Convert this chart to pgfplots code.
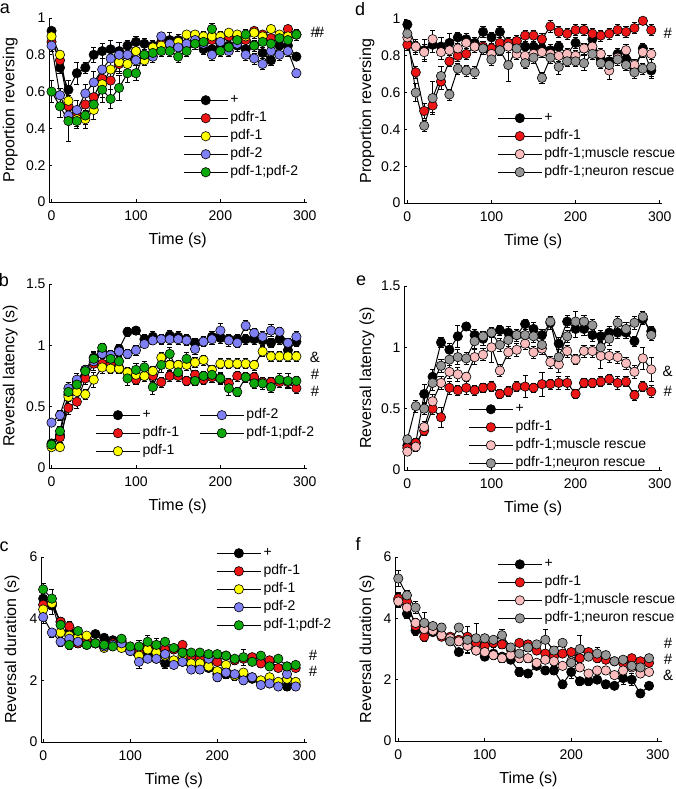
\documentclass[border=0pt]{standalone}
\usepackage{fontspec}
\setmainfont{Liberation Sans}
\usepackage{pgfplots}
\usepackage{pgfplotstable}
\pgfplotsset{compat=1.18}

\definecolor{cblack}{RGB}{0,0,0}
\definecolor{cred}{RGB}{237,22,22}
\definecolor{cyellow}{RGB}{255,255,0}
\definecolor{cblue}{RGB}{128,128,245}
\definecolor{cgreen}{RGB}{12,168,12}
\definecolor{cpink}{RGB}{250,188,188}
\definecolor{cgray}{RGB}{150,150,150}

% panel a: t, + , pdfr-1, pdf-1, pdf-2, pdf-1;pdf-2 (value, error)
\pgfplotstableread{
t   k    ke   r    re   y    ye   b    be   g    ge
0   0.93 .02  0.87 .03  0.90 .02  0.85 .03  0.60 .06
10  0.73 .03  0.77 .03  0.80 .02  0.58 .04  0.52 .06
20  0.61 .05  0.52 .06  0.55 .05  0.47 .05  0.44 .11
30  0.70 .06  0.47 .04  0.45 .04  0.50 .05  0.44 .04
40  0.73 .03  0.53 .05  0.45 .05  0.59 .05  0.47 .05
50  0.80 .04  0.57 .06  0.50 .05  0.65 .06  0.53 .05
60  0.82 .04  0.67 .06  0.64 .07  0.72 .06  0.61 .07
70  0.83 .05  0.66 .05  0.72 .06  0.78 .05  0.56 .05
80  0.82 .05  0.75 .05  0.76 .05  0.80 .04  0.62 .07
90  0.85 .03  0.80 .04  0.75 .04  0.80 .05  0.70 .05
100 0.87 .03  0.82 .04  0.82 .04  0.77 .05  0.70 .04
110 0.86 .03  0.78 .04  0.77 .03  0.80 .03  0.80 .04
120 0.85 .03  0.84 .03  0.84 .03  0.79 .03  0.81 .03
130 0.87 .03  0.86 .03  0.85 .03  0.90 .02  0.82 .03
140 0.88 .04  0.86 .03  0.86 .03  0.86 .03  0.82 .03
150 0.88 .03  0.87 .03  0.87 .03  0.84 .03  0.79 .03
160 0.86 .03  0.86 .03  0.91 .02  0.86 .03  0.82 .03
170 0.87 .03  0.87 .03  0.91 .02  0.88 .03  0.86 .03
180 0.83 .03  0.87 .03  0.90 .03  0.86 .03  0.87 .03
190 0.83 .03  0.88 .03  0.90 .03  0.80 .03  0.94 .03
200 0.86 .03  0.88 .03  0.90 .03  0.87 .03  0.82 .03
210 0.85 .03  0.90 .03  0.92 .02  0.82 .03  0.84 .03
220 0.85 .03  0.90 .03  0.91 .02  0.86 .03  0.88 .03
230 0.83 .03  0.88 .03  0.90 .03  0.80 .03  0.91 .03
240 0.85 .03  0.93 .02  0.92 .03  0.78 .03  0.85 .03
250 0.81 .04  0.91 .02  0.90 .03  0.75 .03  0.87 .03
260 0.77 .03  0.89 .03  0.94 .02  0.82 .03  0.86 .03
270 0.85 .03  0.90 .03  0.91 .02  0.80 .03  0.89 .03
280 0.85 .04  0.94 .02  0.90 .03  0.82 .03  0.88 .03
290 0.79 .02  0.91 .03  0.91 .03  0.70 .02  0.91 .03
}\ta

% panel b
\pgfplotstableread{
t   k    ke   r    re   y    ye   b    be   g    ge
0   0.20 .03  0.18 .03  0.17 .03  0.37 .03  0.19 .03
10  0.27 .04  0.25 .04  0.17 .03  0.43 .04  0.30 .04
20  0.60 .08  0.49 .05  0.58 .06  0.65 .05  0.62 .05
30  0.70 .05  0.54 .05  0.62 .05  0.72 .05  0.68 .05
40  0.80 .04  0.73 .05  0.60 .04  0.80 .04  0.79 .04
50  0.90 .05  0.85 .05  0.72 .06  0.87 .05  0.89 .05
60  0.95 .04  0.85 .05  0.82 .05  0.93 .04  0.98 .04
70  0.92 .04  0.85 .04  0.81 .04  0.92 .04  0.89 .04
80  0.97 .04  0.82 .04  0.81 .04  0.95 .04  0.87 .05
90  1.11 .04  0.78 .04  0.78 .04  0.93 .04  0.73 .06
100 1.12 .03  0.72 .04  0.76 .04  0.96 .04  0.80 .05
110 1.05 .04  0.75 .04  0.75 .04  1.01 .03  0.82 .05
120 1.07 .04  0.75 .04  0.79 .04  1.04 .03  0.66 .06
130 1.05 .04  0.70 .04  0.90 .04  1.05 .03  0.84 .06
140 1.08 .04  0.75 .04  0.84 .04  1.05 .04  0.93 .05
150 1.07 .04  0.75 .04  0.84 .04  1.05 .04  0.78 .05
160 1.05 .04  0.71 .04  0.84 .04  1.04 .04  0.89 .05
170 1.02 .04  0.76 .04  0.86 .04  0.97 .04  0.71 .04
180 1.03 .04  0.72 .04  0.88 .04  1.03 .04  0.75 .04
190 1.07 .04  0.74 .04  0.80 .04  1.05 .04  0.76 .04
200 1.06 .04  0.73 .04  0.85 .04  1.12 .06  0.73 .05
210 1.05 .04  0.69 .04  0.85 .04  1.04 .05  0.65 .06
220 1.05 .04  0.75 .04  0.85 .04  1.02 .04  0.62 .04
230 1.05 .04  0.74 .04  0.85 .04  1.16 .04  0.74 .04
240 1.05 .04  0.74 .04  0.84 .04  1.10 .04  0.69 .04
250 1.04 .04  0.70 .04  0.95 .04  1.07 .04  0.69 .05
260 1.02 .04  0.70 .04  0.91 .04  1.12 .05  0.66 .04
270 1.05 .04  0.70 .04  0.91 .04  1.11 .04  0.72 .05
280 0.96 .04  0.70 .04  0.91 .04  1.02 .04  0.71 .06
290 1.03 .04  0.65 .04  0.91 .04  1.07 .04  0.71 .04
}\tb

% panel c
\pgfplotstableread{
t   k    ke   r    re   y    ye   b    be   g    ge
0   4.65 .2   4.45 .2   4.30 .2   4.05 .2   4.95 .2
10  4.43 .3   4.50 .2   4.50 .2   3.55 .15  4.65 .3
20  3.90 .15  3.90 .15  3.55 .15  3.25 .15  3.80 .15
30  3.60 .15  3.75 .15  3.45 .15  3.35 .15  3.15 .15
40  3.45 .12  3.20 .12  3.40 .12  3.25 .12  3.60 .12
50  3.35 .12  3.30 .12  3.45 .12  3.15 .12  3.15 .12
60  3.50 .12  3.20 .12  3.20 .12  3.20 .12  3.20 .12
70  3.38 .12  3.10 .12  3.05 .12  3.10 .12  3.15 .12
80  3.30 .12  3.20 .12  3.15 .12  3.15 .12  3.10 .12
90  3.25 .12  3.30 .12  3.05 .12  3.20 .12  3.35 .12
100 3.00 .12  3.00 .12  2.95 .12  2.95 .12  3.10 .12
110 3.00 .15  2.90 .12  2.80 .12  2.60 .2   3.10 .2
120 2.90 .12  3.10 .12  3.00 .12  2.70 .12  3.25 .2
130 2.70 .12  3.00 .12  2.90 .12  2.70 .12  3.15 .2
140 2.55 .15  3.00 .12  2.80 .12  2.85 .12  3.25 .12
150 2.60 .12  3.00 .12  2.65 .12  2.50 .12  3.05 .12
160 2.60 .12  3.15 .12  2.80 .12  2.60 .12  2.90 .12
170 2.55 .12  2.80 .12  2.55 .12  2.35 .12  2.90 .12
180 2.45 .12  2.70 .12  2.55 .12  2.35 .12  2.90 .12
190 2.40 .12  2.60 .12  2.45 .12  2.70 .12  2.85 .12
200 2.20 .12  2.60 .12  2.30 .12  2.10 .12  2.85 .12
210 2.20 .12  2.80 .12  2.50 .12  2.25 .12  2.80 .12
220 2.15 .15  2.65 .12  2.15 .12  2.20 .12  2.70 .12
230 2.10 .12  2.70 .12  2.25 .12  2.00 .12  2.75 .25
240 2.05 .12  2.75 .12  2.10 .12  2.10 .12  2.60 .12
250 1.95 .12  2.55 .12  2.00 .12  1.85 .12  2.80 .12
260 1.90 .12  2.65 .12  2.10 .12  1.90 .12  2.45 .12
270 1.85 .12  2.40 .12  1.95 .12  1.80 .12  2.70 .12
280 1.80 .12  2.45 .12  2.05 .12  2.20 .12  2.45 .12
290 1.85 .12  2.40 .12  1.95 .12  1.80 .12  2.50 .12
}\tc

% panel d: t, +, pdfr-1, muscle rescue, neuron rescue
\pgfplotstableread{
t   k    ke   r    re   p    pe   g    ge
0   0.97 .02  0.86 .03  0.90 .03  0.92 .03
10  0.85 .04  0.71 .03  0.85 .03  0.60 .05
20  0.83 .06  0.50 .04  0.82 .04  0.42 .03
30  0.86 .04  0.53 .04  0.89 .05  0.57 .09
40  0.85 .05  0.66 .04  0.82 .04  0.69 .05
50  0.87 .05  0.77 .03  0.83 .04  0.59 .03
60  0.90 .03  0.80 .03  0.84 .05  0.73 .03
70  0.89 .03  0.81 .03  0.87 .03  0.72 .03
80  0.87 .03  0.85 .03  0.85 .03  0.71 .03
90  0.93 .03  0.85 .03  0.84 .03  0.84 .03
100 0.90 .03  0.84 .03  0.81 .03  0.78 .03
110 0.93 .03  0.87 .03  0.83 .03  0.83 .03
120 0.87 .03  0.87 .03  0.85 .03  0.75 .09
130 0.88 .03  0.88 .03  0.81 .03  0.84 .03
140 0.85 .05  0.91 .03  0.80 .03  0.76 .03
150 0.85 .03  0.91 .03  0.81 .03  0.79 .03
160 0.84 .03  0.89 .03  0.82 .03  0.68 .03
170 0.83 .03  0.96 .03  0.81 .03  0.79 .03
180 0.85 .03  0.93 .03  0.80 .03  0.74 .04
190 0.81 .03  0.92 .03  0.81 .03  0.77 .03
200 0.87 .03  0.94 .03  0.80 .03  0.77 .03
210 0.84 .03  0.94 .03  0.84 .03  0.76 .04
220 0.89 .04  0.92 .03  0.85 .03  0.81 .03
230 0.78 .03  0.91 .03  0.81 .03  0.76 .03
240 0.77 .03  0.92 .03  0.72 .05  0.75 .03
250 0.81 .03  0.94 .03  0.79 .03  0.78 .03
260 0.78 .03  0.93 .03  0.83 .03  0.75 .03
270 0.72 .04  0.95 .03  0.75 .03  0.71 .03
280 0.84 .03  0.99 .02  0.82 .03  0.73 .03
290 0.72 .04  0.94 .03  0.81 .03  0.74 .05
}\td

% panel e
\pgfplotstableread{
t   k    ke   r    re   p    pe   g    ge
0   0.20 .03  0.18 .03  0.15 .03  0.25 .03
10  0.22 .04  0.22 .04  0.19 .04  0.52 .05
20  0.62 .08  0.32 .04  0.35 .05  0.50 .05
30  0.76 .06  0.50 .05  0.56 .06  0.71 .06
40  1.04 .04  0.43 .08  0.71 .05  0.85 .05
50  0.98 .05  0.67 .05  0.80 .05  0.90 .05
60  1.09 .09  0.65 .04  0.78 .06  0.92 .06
70  1.17 .03  0.67 .05  0.76 .04  0.91 .05
80  1.10 .05  0.65 .04  0.92 .06  1.05 .06
90  1.07 .05  0.67 .04  0.94 .05  1.09 .04
100 1.12 .04  0.68 .04  1.00 .12  1.12 .04
110 1.14 .04  0.62 .04  0.81 .05  1.02 .05
120 1.12 .05  0.64 .04  0.96 .05  1.06 .05
130 1.10 .05  0.68 .04  0.98 .05  1.10 .05
140 1.19 .04  0.68 .09  1.03 .05  1.10 .05
150 1.15 .05  0.67 .04  0.96 .05  1.09 .05
160 1.10 .05  0.70 .10  0.99 .05  1.02 .05
170 1.20 .05  0.70 .04  0.88 .05  1.21 .04
180 1.03 .05  0.71 .05  0.86 .06  0.92 .06
190 1.21 .05  0.71 .05  0.97 .05  1.09 .05
200 1.15 .07  0.62 .04  0.90 .04  1.21 .08
210 1.15 .05  0.71 .04  0.97 .05  1.21 .05
220 1.10 .05  0.71 .04  0.97 .05  1.18 .05
230 1.09 .05  0.72 .04  0.93 .10  1.00 .05
240 1.12 .05  0.74 .04  0.93 .05  1.07 .05
250 1.12 .05  0.71 .05  0.92 .05  1.20 .05
260 1.12 .05  0.72 .04  0.87 .05  1.15 .05
270 1.05 .04  0.61 .04  0.80 .05  1.20 .05
280 1.23 .04  0.68 .04  0.91 .09  1.25 .04
290 1.13 .04  0.64 .05  0.82 .10  1.10 .04
}\te

% panel f
\pgfplotstableread{
t   k    ke   r    re   p    pe   g    ge
0   4.60 .2   4.65 .2   4.55 .2   5.30 .25
10  4.15 .15  4.55 .2   4.35 .15  4.75 .15
20  3.60 .15  3.75 .15  3.85 .15  4.35 .2
30  3.70 .15  3.40 .15  3.65 .15  3.85 .35
40  3.55 .12  3.60 .12  3.60 .12  3.75 .12
50  3.45 .12  3.40 .12  3.45 .12  3.70 .15
60  3.30 .12  3.40 .12  3.35 .12  3.25 .12
70  2.90 .12  3.30 .12  3.25 .12  3.70 .12
80  3.10 .2   3.40 .12  3.10 .12  3.30 .45
90  2.95 .12  3.20 .12  2.95 .12  3.35 .5
100 2.75 .12  3.10 .12  2.90 .12  3.35 .12
110 2.85 .2   3.20 .12  2.80 .12  3.30 .12
120 2.75 .12  3.15 .12  2.70 .12  3.45 .2
130 2.65 .12  3.00 .12  2.80 .12  3.05 .12
140 2.25 .15  3.20 .12  2.70 .12  2.85 .12
150 2.20 .12  3.15 .12  2.70 .12  3.05 .12
160 2.45 .12  2.95 .12  2.55 .12  3.15 .12
170 2.30 .12  2.85 .12  2.65 .12  3.30 .35
180 2.30 .12  2.75 .12  2.60 .12  2.95 .15
190 1.85 .12  2.85 .12  2.45 .12  3.20 .12
200 2.25 .2   2.90 .12  2.60 .12  2.55 .12
210 1.95 .12  2.70 .12  2.40 .12  3.00 .45
220 1.95 .15  2.90 .12  2.20 .12  2.75 .12
230 2.00 .12  2.70 .12  2.30 .12  2.85 .2
240 1.85 .12  2.65 .12  2.30 .12  2.80 .12
250 1.80 .12  2.60 .12  2.15 .12  2.60 .12
260 2.05 .2   2.55 .12  2.30 .12  2.65 .12
270 2.00 .2   2.70 .12  2.40 .12  2.45 .12
280 1.55 .12  2.60 .12  2.20 .12  2.40 .2
290 1.80 .12  2.55 .12  2.25 .12  2.70 .12
}\tf

\pgfplotsset{
  panel/.style={
    scale only axis, clip=false,
    axis x line*=bottom, axis y line*=left,
    axis line style={-, black, line width=0.8pt},
    tick align=inside, major tick length=3pt,
    tick style={black, line width=0.8pt},
    xtick={0,100,200,300},
    /pgf/number format/assume math mode=true,
    ticklabel style={font=\fontsize{14}{16}\selectfont},
    xticklabel style={yshift=-5pt},
    label style={font=\fontsize{16}{19}\selectfont},
    xlabel={Time (s)},
    xlabel style={at={(axis description cs:0.5,0)}, anchor=center, yshift=-38pt},
    legend cell align=left,
    legend style={draw=none, fill=none, anchor=north west, inner sep=0pt,
      font=\fontsize{14}{16}\selectfont,
      nodes={inner ysep=2pt, inner xsep=2pt, text height=10.5pt, text depth=3.5pt}},
    legend image code/.code={\draw[mark repeat=2,mark phase=2] plot coordinates {(0pt,0pt) (22pt,0pt) (44pt,0pt)};},
  },
  ylab/.style={ylabel style={at={(axis description cs:#1,0.5)}, anchor=center, rotate=0}},
  ser/.style={black, line width=1.0pt, mark=*, mark size=4.7pt,
    mark options={fill=#1, draw=black, line width=0.6pt, solid},
    /pgfplots/error bars/y dir=both, /pgfplots/error bars/y explicit,
    /pgfplots/error bars/error bar style={black, line width=0.7pt},
    /pgfplots/error bars/error mark options={rotate=90, black, mark size=2.6pt, line width=0.7pt}},
  leg/.style={black, line width=1.3pt, mark=*, mark size=4.7pt,
    mark options={fill=#1, draw=black, line width=0.6pt, solid}},
}
\tikzset{ann/.style={font=\fontsize{15}{16}\selectfont, inner sep=0pt}}

\begin{document}
\begin{tikzpicture}[x=1pt,y=1pt]
\useasboundingbox (0,0) rectangle (675,789);

% ---------- a ----------
\begin{axis}[panel, at={(49pt,587pt)}, anchor=south west, width=257.5pt, height=184pt,
  xmin=-3, xmax=302, ymin=0, ymax=1, ytick={0,0.2,0.4,0.6,0.8,1},
  ylabel={Proportion reversing}, ylab=-0.151,
  legend style={at={(0.52,0.603)}}]
\addplot[ser=cblack, forget plot] table[x=t,y=k,y error=ke]{\ta};
\addplot[ser=cred, forget plot] table[x=t,y=r,y error=re]{\ta};
\addplot[ser=cyellow, forget plot] table[x=t,y=y,y error=ye]{\ta};
\addplot[ser=cblue, forget plot] table[x=t,y=b,y error=be]{\ta};
\addplot[ser=cgreen, forget plot] table[x=t,y=g,y error=ge]{\ta};
\addlegendimage{leg=cblack}\addlegendentry{+}
\addlegendimage{leg=cred}\addlegendentry{pdfr-1}
\addlegendimage{leg=cyellow}\addlegendentry{pdf-1}
\addlegendimage{leg=cblue}\addlegendentry{pdf-2}
\addlegendimage{leg=cgreen}\addlegendentry{pdf-1;pdf-2}
\node[ann] at (axis cs:315,0.92) {\#\kern-3pt\#};
\end{axis}

% ---------- b ----------
\begin{axis}[panel, at={(49pt,321pt)}, anchor=south west, width=257.5pt, height=184pt,
  xmin=-3, xmax=302, ymin=0, ymax=1.5, ytick={0,0.5,1,1.5},
  ylabel={Reversal latency (s)}, ylab=-0.151,
  legend columns=2,
  legend style={at={(0.179,0.337)}, /tikz/every even column/.append style={column sep=18pt}}]
\addplot[ser=cblack, forget plot] table[x=t,y=k,y error=ke]{\tb};
\addplot[ser=cred, forget plot] table[x=t,y=r,y error=re]{\tb};
\addplot[ser=cyellow, forget plot] table[x=t,y=y,y error=ye]{\tb};
\addplot[ser=cblue, forget plot] table[x=t,y=b,y error=be]{\tb};
\addplot[ser=cgreen, forget plot] table[x=t,y=g,y error=ge]{\tb};
\addlegendimage{leg=cblack}\addlegendentry{+}
\addlegendimage{leg=cblue}\addlegendentry{pdf-2}
\addlegendimage{leg=cred}\addlegendentry{pdfr-1}
\addlegendimage{leg=cgreen}\addlegendentry{pdf-1;pdf-2}
\addlegendimage{leg=cyellow}\addlegendentry{pdf-1}
\node[ann] at (axis cs:312,0.905) {\&};
\node[ann] at (axis cs:312,0.76) {\#};
\node[ann] at (axis cs:312,0.625) {\#};
\end{axis}

% ---------- c ----------
\begin{axis}[panel, at={(41pt,47pt)}, anchor=south west, width=266pt, height=185pt,
  xmin=-2.5, xmax=303, ymin=0, ymax=6, ytick={0,2,4,6},
  ylabel={Reversal duration (s)}, ylab=-0.109,
  legend style={at={(0.658,1.07)}}]
\addplot[ser=cblack, forget plot] table[x=t,y=k,y error=ke]{\tc};
\addplot[ser=cred, forget plot] table[x=t,y=r,y error=re]{\tc};
\addplot[ser=cyellow, forget plot] table[x=t,y=y,y error=ye]{\tc};
\addplot[ser=cblue, forget plot] table[x=t,y=b,y error=be]{\tc};
\addplot[ser=cgreen, forget plot] table[x=t,y=g,y error=ge]{\tc};
\addlegendimage{leg=cblack}\addlegendentry{+}
\addlegendimage{leg=cred}\addlegendentry{pdfr-1}
\addlegendimage{leg=cyellow}\addlegendentry{pdf-1}
\addlegendimage{leg=cblue}\addlegendentry{pdf-2}
\addlegendimage{leg=cgreen}\addlegendentry{pdf-1;pdf-2}
\node[ann] at (axis cs:310,2.8) {\#};
\node[ann] at (axis cs:310,2.3) {\#};
\end{axis}

% ---------- d ----------
\begin{axis}[panel, at={(404pt,586pt)}, anchor=south west, width=258.2pt, height=184pt,
  xmin=-4, xmax=303, ymin=0, ymax=1, ytick={0,0.2,0.4,0.6,0.8,1},
  ylabel={Proportion reversing}, ylab=-0.143,
  legend style={at={(0.36,0.511)}}]
\addplot[ser=cblack, forget plot] table[x=t,y=k,y error=ke]{\td};
\addplot[ser=cred, forget plot] table[x=t,y=r,y error=re]{\td};
\addplot[ser=cpink, forget plot] table[x=t,y=p,y error=pe]{\td};
\addplot[ser=cgray, forget plot] table[x=t,y=g,y error=ge]{\td};
\addlegendimage{leg=cblack}\addlegendentry{+}
\addlegendimage{leg=cred}\addlegendentry{pdfr-1}
\addlegendimage{leg=cpink}\addlegendentry{pdfr-1;muscle rescue}
\addlegendimage{leg=cgray}\addlegendentry{pdfr-1;neuron rescue}
\node[ann] at (axis cs:309.5,0.924) {\#};
\end{axis}

% ---------- e ----------
\begin{axis}[panel, at={(404pt,319pt)}, anchor=south west, width=258.2pt, height=184pt,
  xmin=-4, xmax=303, ymin=0, ymax=1.5, ytick={0,0.5,1,1.5},
  ylabel={Reversal latency (s)}, ylab=-0.143,
  legend style={at={(0.248,0.38)}}]
\addplot[ser=cblack, forget plot] table[x=t,y=k,y error=ke]{\te};
\addplot[ser=cred, forget plot] table[x=t,y=r,y error=re]{\te};
\addplot[ser=cpink, forget plot] table[x=t,y=p,y error=pe]{\te};
\addplot[ser=cgray, forget plot] table[x=t,y=g,y error=ge]{\te};
\addlegendimage{leg=cblack}\addlegendentry{+}
\addlegendimage{leg=cred}\addlegendentry{pdfr-1}
\addlegendimage{leg=cpink}\addlegendentry{pdfr-1;muscle rescue}
\addlegendimage{leg=cgray}\addlegendentry{pdfr-1;neuron rescue}
\node[ann] at (axis cs:309.5,0.80) {\&};
\node[ann] at (axis cs:309.5,0.64) {\#};
\end{axis}

% ---------- f ----------
\begin{axis}[panel, at={(395pt,48pt)}, anchor=south west, width=267pt, height=184pt,
  xmin=-3.8, xmax=305, ymin=0, ymax=6, ytick={0,2,4,6},
  ylabel={Reversal duration (s)}, ylab=-0.105,
  legend style={at={(0.382,1.01)}}]
\addplot[ser=cblack, forget plot] table[x=t,y=k,y error=ke]{\tf};
\addplot[ser=cred, forget plot] table[x=t,y=r,y error=re]{\tf};
\addplot[ser=cpink, forget plot] table[x=t,y=p,y error=pe]{\tf};
\addplot[ser=cgray, forget plot] table[x=t,y=g,y error=ge]{\tf};
\addlegendimage{leg=cblack}\addlegendentry{+}
\addlegendimage{leg=cred}\addlegendentry{pdfr-1}
\addlegendimage{leg=cpink}\addlegendentry{pdfr-1;muscle rescue}
\addlegendimage{leg=cgray}\addlegendentry{pdfr-1;neuron rescue}
\node[ann] at (axis cs:312,3.17) {\#};
\node[ann] at (axis cs:312,2.66) {\#};
\node[ann] at (axis cs:312,2.15) {\&};
\end{axis}

% panel letters
\node[font=\fontsize{18}{20}\selectfont] at (5,780) {a};
\node[font=\fontsize{18}{20}\selectfont] at (360,780) {d};
\node[font=\fontsize{18}{20}\selectfont] at (4,509) {b};
\node[font=\fontsize{18}{20}\selectfont] at (361,508) {e};
\node[font=\fontsize{18}{20}\selectfont] at (4,242) {c};
\node[font=\fontsize{18}{20}\selectfont] at (358,245) {f};
\end{tikzpicture}
\end{document}
